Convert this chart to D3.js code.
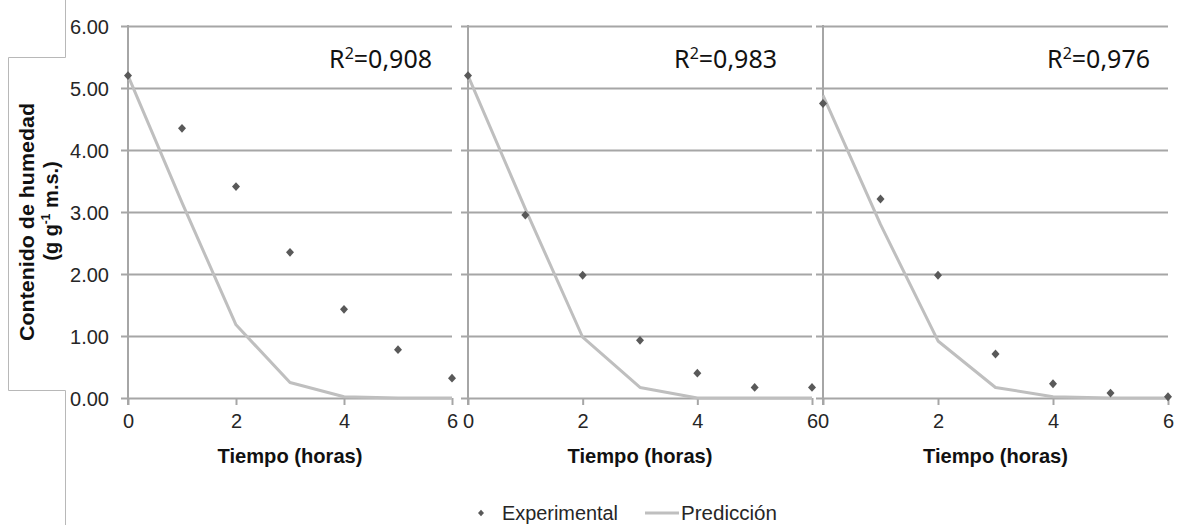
<!DOCTYPE html>
<html>
<head>
<meta charset="utf-8">
<script src="https://cdn.jsdelivr.net/npm/d3@7"></script>
<style>
  html, body { margin: 0; padding: 0; background: #fff; }
  svg { display: block; font-family: "Liberation Sans", Arial, sans-serif; }
</style>
</head>
<body>
<svg id="chart" width="1177" height="525"></svg>
<script>
// ---- data ----
const hours = [0, 1, 2, 3, 4, 5, 6];
const experimental1 = [5.20, 4.35, 3.41, 2.35, 1.43, 0.78, 0.32];
const prediction1   = [5.20, 3.15, 1.18, 0.25, 0.02, 0.00, 0.00];
const experimental2 = [5.20, 2.95, 1.98, 0.93, 0.40, 0.17, 0.17];
const prediction2   = [5.20, 3.05, 0.98, 0.17, 0.00, 0.00, 0.00];
const experimental3 = [4.75, 3.21, 1.98, 0.71, 0.23, 0.08, 0.02];
const prediction3   = [4.88, 2.80, 0.92, 0.17, 0.02, 0.00, 0.00];
const r2Values = ["0,908", "0,983", "0,976"];
const xTicks = [0, 2, 4, 6];
const yTicks = [0, 1, 2, 3, 4, 5, 6];
const yTickLabels = ["0.00", "1.00", "2.00", "3.00", "4.00", "5.00", "6.00"];
const xTitle = "Tiempo (horas)";
const legendLabels = ["Experimental", "Predicción"];

// ---- layout ----
const svg = d3.select("#chart");
const panels = [
  { x0: 128, x1: 452, exp: experimental1, pred: prediction1, r2: r2Values[0], r2x: 432 },
  { x0: 468, x1: 812, exp: experimental2, pred: prediction2, r2: r2Values[1], r2x: 777 },
  { x0: 823, x1: 1168, exp: experimental3, pred: prediction3, r2: r2Values[2], r2x: 1150 }
];
const yTop = 26, yBottom = 398;
const y = d3.scaleLinear().domain([0, 6]).range([yBottom, yTop]);

const gridColor = "#a6a6a6";
const predColor = "#bfbfbf";
const markColor = "#595959";
const textColor = "#262626";

const diamond = {
  draw(ctx, size) {
    const r = Math.sqrt(size) / 2;
    ctx.moveTo(0, -r * 1.1);
    ctx.lineTo(r, 0);
    ctx.lineTo(0, r * 1.1);
    ctx.lineTo(-r, 0);
    ctx.closePath();
  }
};
const symbolPath = d3.symbol().type(diamond).size(64)();

// decorative bracket frame on the left
svg.append("path")
  .attr("d", "M65.5,0V57.5H8.5V390.5H65.5V525")
  .attr("fill", "none")
  .attr("stroke", "#b8b8b8")
  .attr("stroke-width", 1);

panels.forEach((p, i) => {
  const x = d3.scaleLinear().domain([0, 6]).range([p.x0, p.x1]);
  const g = svg.append("g");

  // horizontal gridlines (incl. 0 baseline), extending left of the axis as ticks
  const yAxis = d3.axisLeft(y).tickValues(yTicks)
    .tickSize((p.x1 - p.x0) + 7)
    .tickFormat("");
  const gy = g.append("g").attr("transform", `translate(${p.x1},0)`).call(yAxis);
  gy.select(".domain").remove();
  gy.selectAll(".tick line").attr("stroke", gridColor).attr("stroke-width", 2);
  gy.selectAll(".tick text").remove();

  if (i === 0) {
    const gl = g.append("g").attr("transform", `translate(109,0)`)
      .call(d3.axisLeft(y).tickValues(yTicks).tickSize(0).tickPadding(0)
        .tickFormat((d, k) => yTickLabels[k]));
    gl.select(".domain").remove();
    gl.selectAll("text")
      .attr("font-size", 20)
      .attr("fill", textColor)
      .attr("font-family", "'Liberation Sans', Arial, sans-serif")
      .attr("dy", "0.36em");
  }

  // vertical y axis line
  g.append("line")
    .attr("x1", p.x0).attr("x2", p.x0)
    .attr("y1", yTop - 1).attr("y2", yBottom + 7)
    .attr("stroke", gridColor).attr("stroke-width", 2);

  // x axis ticks and labels
  const xAxis = d3.axisBottom(x).tickValues(xTicks).tickSize(7).tickPadding(9)
    .tickFormat(d3.format("d"));
  const gx = g.append("g").attr("transform", `translate(0,${yBottom})`).call(xAxis);
  gx.select(".domain").remove();
  gx.selectAll(".tick line").attr("stroke", gridColor).attr("stroke-width", 2);
  gx.selectAll(".tick text")
    .attr("font-size", 20)
    .attr("fill", textColor)
    .attr("font-family", "'Liberation Sans', Arial, sans-serif");

  // x title
  g.append("text")
    .attr("x", (p.x0 + p.x1) / 2)
    .attr("y", 463)
    .attr("text-anchor", "middle")
    .attr("font-size", 21)
    .attr("font-weight", "bold")
    .attr("fill", "#111")
    .attr("textLength", 145)
    .attr("lengthAdjust", "spacingAndGlyphs")
    .text(xTitle);

  // prediction line
  const line = d3.line().x((d, k) => x(hours[k])).y(d => y(d));
  g.append("path")
    .datum(p.pred)
    .attr("d", line)
    .attr("fill", "none")
    .attr("stroke", predColor)
    .attr("stroke-width", 3)
    .attr("stroke-linejoin", "round");

  // experimental points
  g.selectAll(".pt")
    .data(p.exp)
    .join("path")
    .attr("class", "pt")
    .attr("d", symbolPath)
    .attr("transform", (d, k) => `translate(${x(hours[k])},${y(d)})`)
    .attr("fill", markColor);

  // R² label
  const t = g.append("text")
    .attr("x", p.r2x)
    .attr("y", 68)
    .attr("text-anchor", "end")
    .attr("font-family", "'Noto Sans', 'Open Sans', sans-serif")
    .attr("font-size", 25)
    .attr("fill", "#111");
  t.append("tspan").text("R");
  t.append("tspan").attr("font-size", 16).attr("dy", -9).text("2");
  t.append("tspan").attr("dy", 9).text("=" + p.r2);
});

// y axis title
svg.append("text")
  .attr("transform", "translate(34,222) rotate(-90)")
  .attr("text-anchor", "middle")
  .attr("font-size", 20)
  .attr("font-weight", "bold")
  .attr("fill", "#111")
  .attr("textLength", 238)
  .attr("lengthAdjust", "spacingAndGlyphs")
  .text("Contenido de humedad");

const yt2 = svg.append("text")
  .attr("transform", "translate(58,211) rotate(-90)")
  .attr("text-anchor", "middle")
  .attr("font-size", 20)
  .attr("font-weight", "bold")
  .attr("fill", "#111");
yt2.append("tspan").text("(g g");
yt2.append("tspan").attr("font-size", 12).attr("dy", -8).text("-1");
yt2.append("tspan").attr("dy", 8).text(" m.s.)");

// legend
const lg = svg.append("g");
lg.append("path")
  .attr("d", d3.symbol().type(diamond).size(36)())
  .attr("transform", "translate(481,513)")
  .attr("fill", markColor);
lg.append("text")
  .attr("x", 502).attr("y", 520)
  .attr("font-size", 20)
  .attr("fill", textColor)
  .attr("textLength", 116)
  .attr("lengthAdjust", "spacingAndGlyphs")
  .text(legendLabels[0]);
lg.append("line")
  .attr("x1", 645).attr("x2", 679)
  .attr("y1", 513).attr("y2", 513)
  .attr("stroke", predColor).attr("stroke-width", 3);
lg.append("text")
  .attr("x", 681).attr("y", 520)
  .attr("font-size", 20)
  .attr("fill", textColor)
  .attr("textLength", 96)
  .attr("lengthAdjust", "spacingAndGlyphs")
  .text(legendLabels[1]);
</script>
</body>
</html>
